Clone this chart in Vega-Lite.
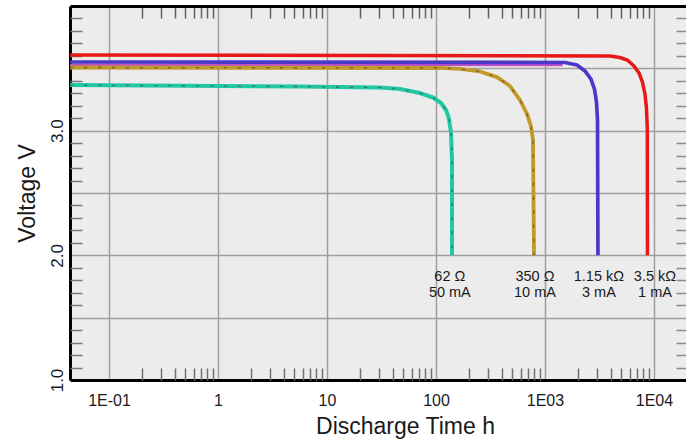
{
  "$schema": "https://vega.github.io/schema/vega-lite/v6.json",
  "width": 616,
  "height": 374,
  "autosize": {"type": "none"},
  "padding": {"left": 70, "top": 6, "right": 0, "bottom": 66},
  "background": "white",
  "config": {
    "view": {"fill": "#ececec", "stroke": null},
    "font": "Liberation Sans",
    "axis": {"labelFlush": false, "labelOverlap": false, "labelBound": false, "titleFontWeight": "normal"}
  },
  "datasets": {
    "curves": [
      {"series": "red", "o": 1, "t": 0.044, "v": 3.607},
      {"series": "red", "o": 2, "t": 3948, "v": 3.599},
      {"series": "red", "o": 3, "t": 4876, "v": 3.587},
      {"series": "red", "o": 4, "t": 5771, "v": 3.563},
      {"series": "red", "o": 5, "t": 6555, "v": 3.519},
      {"series": "red", "o": 6, "t": 7280, "v": 3.463},
      {"series": "red", "o": 7, "t": 7839, "v": 3.39},
      {"series": "red", "o": 8, "t": 8266, "v": 3.294},
      {"series": "red", "o": 9, "t": 8537, "v": 3.182},
      {"series": "red", "o": 10, "t": 8686, "v": 3.005},
      {"series": "red", "o": 11, "t": 8714, "v": 2.0},
      {"series": "blue", "o": 1, "t": 0.044, "v": 3.551},
      {"series": "blue", "o": 2, "t": 1525, "v": 3.547},
      {"series": "blue", "o": 3, "t": 1966, "v": 3.527},
      {"series": "blue", "o": 4, "t": 2328, "v": 3.479},
      {"series": "blue", "o": 5, "t": 2642, "v": 3.414},
      {"series": "blue", "o": 6, "t": 2845, "v": 3.334},
      {"series": "blue", "o": 7, "t": 2968, "v": 3.23},
      {"series": "blue", "o": 8, "t": 3033, "v": 3.086},
      {"series": "blue", "o": 9, "t": 3063, "v": 2.0},
      {"series": "gold", "o": 1, "t": 0.044, "v": 3.507},
      {"series": "gold", "o": 2, "t": 108.8, "v": 3.503},
      {"series": "gold", "o": 3, "t": 166, "v": 3.495},
      {"series": "gold", "o": 4, "t": 253, "v": 3.475},
      {"series": "gold", "o": 5, "t": 363, "v": 3.43},
      {"series": "gold", "o": 6, "t": 477, "v": 3.358},
      {"series": "gold", "o": 7, "t": 590, "v": 3.246},
      {"series": "gold", "o": 8, "t": 684, "v": 3.134},
      {"series": "gold", "o": 9, "t": 744, "v": 3.037},
      {"series": "gold", "o": 10, "t": 776, "v": 2.925},
      {"series": "gold", "o": 11, "t": 793, "v": 2.0},
      {"series": "teal", "o": 1, "t": 0.044, "v": 3.366},
      {"series": "teal", "o": 2, "t": 5.65, "v": 3.354},
      {"series": "teal", "o": 3, "t": 30.6, "v": 3.346},
      {"series": "teal", "o": 4, "t": 46.7, "v": 3.334},
      {"series": "teal", "o": 5, "t": 71.3, "v": 3.302},
      {"series": "teal", "o": 6, "t": 93.8, "v": 3.266},
      {"series": "teal", "o": 7, "t": 111.1, "v": 3.222},
      {"series": "teal", "o": 8, "t": 123.6, "v": 3.166},
      {"series": "teal", "o": 9, "t": 131.6, "v": 3.094},
      {"series": "teal", "o": 10, "t": 137.4, "v": 2.981},
      {"series": "teal", "o": 11, "t": 140.3, "v": 2.765},
      {"series": "teal", "o": 12, "t": 140.3, "v": 2.0}
    ],
    "magenta": [
      {"o": 1, "t": 0.044, "v": 3.528},
      {"o": 2, "t": 1450, "v": 3.526}
    ],
    "labels": [
      {"t": 134, "v": 1.885, "label": "62 Ω\n50 mA"},
      {"t": 810, "v": 1.885, "label": "350 Ω\n10 mA"},
      {"t": 3127, "v": 1.885, "label": "1.15 kΩ\n3 mA"},
      {"t": 10210, "v": 1.885, "label": "3.5 kΩ\n1 mA"}
    ]
  },
  "resolve": {"axis": {"x": "independent", "y": "independent"}},
  "layer": [
    {
      "data": {"name": "magenta"},
      "mark": {"type": "line", "color": "#c24fc8", "strokeWidth": 2.2, "clip": true},
      "encoding": {
        "x": {"field": "t", "type": "quantitative", "scale": {"type": "log", "domain": [0.04387, 19670]}, "axis": null},
        "y": {"field": "v", "type": "quantitative", "scale": {"domain": [1, 4]}, "axis": null},
        "order": {"field": "o"}
      }
    },
    {
      "data": {"name": "curves"},
      "mark": {"type": "line", "clip": true, "strokeJoin": "round"},
      "encoding": {
        "x": {
          "field": "t", "type": "quantitative",
          "scale": {"type": "log", "domain": [0.04387, 19670]},
          "axis": {
            "orient": "bottom",
            "values": [0.1, 1, 10, 100, 1000, 10000],
            "labelExpr": "datum.value < 0.5 ? '1E-01' : datum.value > 5000 ? '1E04' : datum.value > 500 ? '1E03' : format(datum.value, 'd')",
            "grid": true, "gridColor": "#9e9e9e", "gridWidth": 1.5,
            "ticks": false, "tickSize": 0,
            "domain": true, "domainColor": "black", "domainWidth": 3,
            "labelFontSize": 16, "labelColor": "#1a1a1a", "labelPadding": 12, "labelBaseline": "top",
            "title": "Discharge Time h", "titleFontSize": 23, "titleColor": "#1a1a1a",
            "titleX": 335, "titleY": 53, "titleBaseline": "alphabetic", "titleAlign": "center"
          }
        },
        "y": {
          "field": "v", "type": "quantitative",
          "scale": {"domain": [1, 4]},
          "axis": {
            "orient": "left",
            "values": [1, 1.5, 2, 2.5, 3, 3.5, 4],
            "labelExpr": "(datum.value % 1 == 0 && datum.value < 4) ? format(datum.value, '.1f') : ''",
            "grid": true, "gridColor": "#9e9e9e", "gridWidth": 1.5,
            "ticks": false, "tickSize": 0,
            "domain": true, "domainColor": "black", "domainWidth": 3,
            "labelFontSize": 17, "labelColor": "#1a1a1a", "labelPadding": 8,
            "labelAngle": -90, "labelAlign": "center", "labelBaseline": "alphabetic",
            "title": "Voltage V", "titleFontSize": 23, "titleColor": "#1a1a1a",
            "titleX": -36, "titleY": 187, "titleAngle": -90, "titleBaseline": "alphabetic", "titleAlign": "center"
          }
        },
        "color": {
          "field": "series", "type": "nominal",
          "scale": {"domain": ["teal", "gold", "blue", "red"], "range": ["#22c8a4", "#c29a2a", "#4a38c8", "#e81818"]},
          "legend": null
        },
        "strokeWidth": {
          "field": "series", "type": "nominal",
          "scale": {"domain": ["teal", "gold", "blue", "red"], "range": [4, 3.5, 3.2, 5]},
          "legend": null
        },
        "order": {"field": "o"}
      }
    },
    {
      "data": {"name": "curves"},
      "transform": [{"filter": "datum.series == 'teal' || datum.series == 'gold'"}],
      "mark": {"type": "line", "clip": true, "color": "#2a2a2a", "strokeWidth": 1.3, "strokeDash": [3, 11], "opacity": 0.5},
      "encoding": {
        "x": {
          "field": "t", "type": "quantitative",
          "scale": {"type": "log", "domain": [0.04387, 19670]},
          "axis": {
            "orient": "bottom",
            "values": [0.2,0.3,0.4,0.5,0.6,0.7,0.8,0.9,2,3,4,5,6,7,8,9,20,30,40,50,60,70,80,90,200,300,400,500,600,700,800,900,2000,3000,4000,5000,6000,7000,8000,9000],
            "labels": false, "grid": false, "domain": false,
            "ticks": true, "tickSize": -12, "tickColor": "#707070", "tickWidth": 1.5,
            "title": null
          }
        },
        "y": {
          "field": "v", "type": "quantitative",
          "scale": {"domain": [1, 4]},
          "axis": {
            "orient": "left",
            "values": [1.1,1.2,1.3,1.4,1.6,1.7,1.8,1.9,2.1,2.2,2.3,2.4,2.6,2.7,2.8,2.9,3.1,3.2,3.3,3.4,3.6,3.7,3.8,3.9],
            "labels": false, "grid": false, "domain": false,
            "ticks": true, "tickSize": -12, "tickColor": "#7a7a7a", "tickWidth": 1.5,
            "title": null
          }
        },
        "detail": {"field": "series"},
        "order": {"field": "o"}
      }
    },
    {
      "data": {"name": "labels"},
      "mark": {"type": "text", "lineBreak": "\n", "align": "center", "baseline": "top", "fontSize": 14.5, "lineHeight": 16, "color": "#1a1a1a"},
      "encoding": {
        "x": {
          "field": "t", "type": "quantitative",
          "scale": {"type": "log", "domain": [0.04387, 19670]},
          "axis": {
            "orient": "top",
            "values": [0.2,0.3,0.4,0.5,0.6,0.7,0.8,0.9,2,3,4,5,6,7,8,9,20,30,40,50,60,70,80,90,200,300,400,500,600,700,800,900,2000,3000,4000,5000,6000,7000,8000,9000],
            "labels": false, "grid": false,
            "domain": true, "domainColor": "black", "domainWidth": 3,
            "ticks": true, "tickSize": -12, "tickColor": "#606060", "tickWidth": 1.5,
            "title": null
          }
        },
        "y": {
          "field": "v", "type": "quantitative",
          "scale": {"domain": [1, 4]},
          "axis": {
            "orient": "right",
            "values": [1.1,1.2,1.3,1.4,1.6,1.7,1.8,1.9,2.1,2.2,2.3,2.4,2.6,2.7,2.8,2.9,3.1,3.2,3.3,3.4,3.6,3.7,3.8,3.9],
            "labels": false, "grid": false, "domain": false,
            "ticks": true, "tickSize": -10, "tickColor": "#8a8a8a", "tickWidth": 1.5,
            "title": null
          }
        },
        "text": {"field": "label"}
      }
    }
  ]
}
